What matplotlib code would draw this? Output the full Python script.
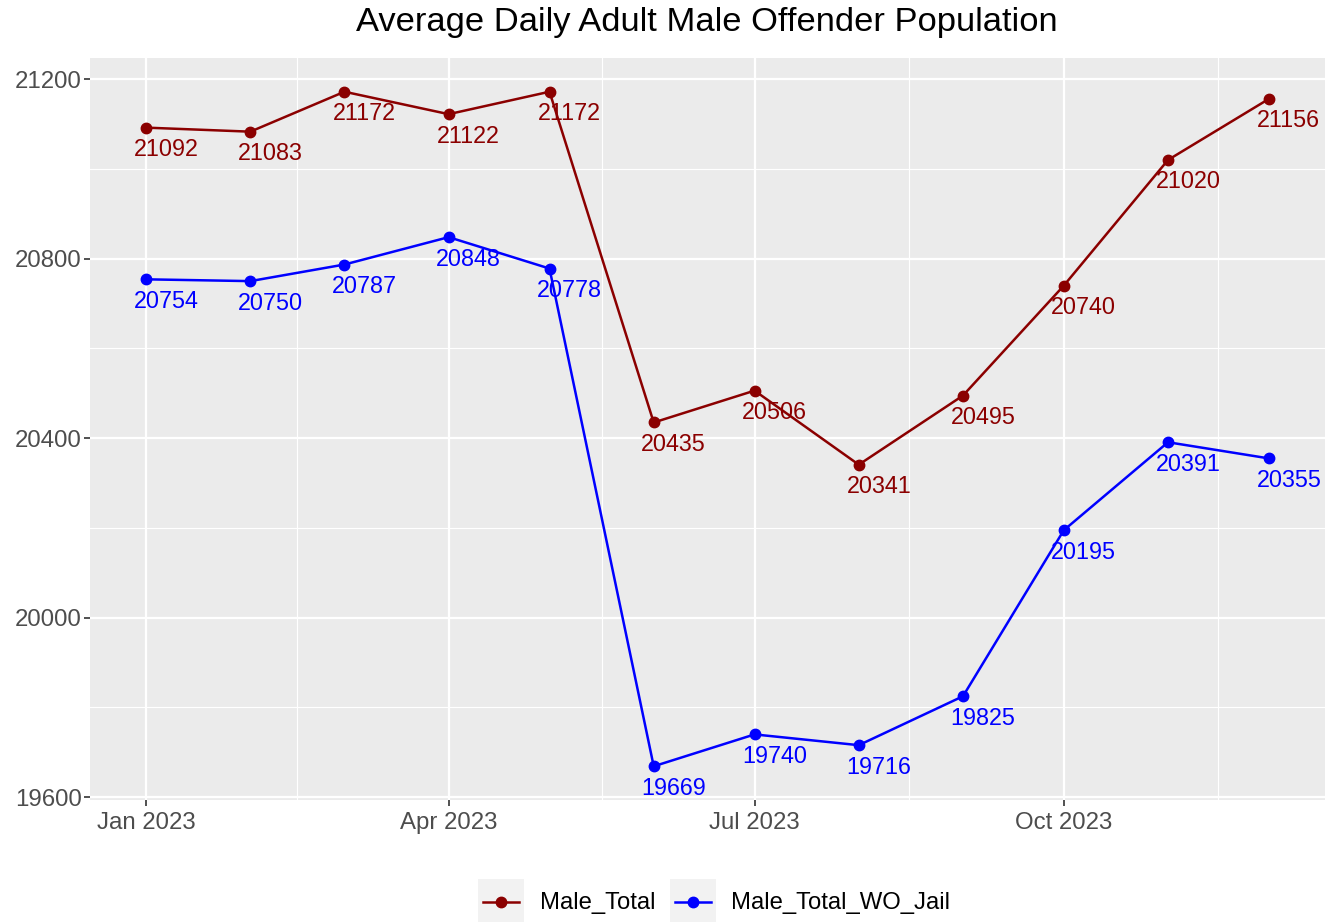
import numpy as np
import pandas as pd
import matplotlib
matplotlib.use("Agg")
import matplotlib.pyplot as plt
import matplotlib.dates as mdates
from matplotlib.lines import Line2D
from matplotlib.patches import Rectangle

plt.rcParams['font.family'] = ['Liberation Sans', 'DejaVu Sans']

months = pd.date_range("2023-01-01", periods=12, freq="MS")
male_total = [21092, 21083, 21172, 21122, 21172, 20435, 20506, 20341, 20495, 20740, 21020, 21156]
male_wo_jail = [20754, 20750, 20787, 20848, 20778, 19669, 19740, 19716, 19825, 20195, 20391, 20355]
series_names = ["Male_Total", "Male_Total_WO_Jail"]
series_colors = ["#8B0000", "#0000FF"]
y_ticks = [19600, 20000, 20400, 20800, 21200]

W, H = 1338, 922
fig = plt.figure(figsize=(W / 100, H / 100), dpi=100)
ax = fig.add_axes([90 / W, (H - 800) / H, (1325 - 90) / W, (800 - 58) / H])
ax.set_facecolor("#EBEBEB")

for vals, col in zip([male_total, male_wo_jail], series_colors):
    ax.plot(months, vals, color=col, lw=1.8, marker="o", ms=7.5, zorder=3)
    for d, v in zip(months, vals):
        ax.annotate(str(v), (d, v), xytext=(20, -22), textcoords="offset pixels",
                    ha="center", va="center", color=col, fontsize=16.8, zorder=4)

major_x = mdates.date2num(pd.to_datetime(["2023-01-01", "2023-04-01", "2023-07-01", "2023-10-01"]))
ax.set_xticks(major_x)
ax.xaxis.set_major_formatter(mdates.DateFormatter("%b %Y"))
minor_x = list((major_x[:-1] + major_x[1:]) / 2) + [(major_x[-1] + mdates.date2num(pd.Timestamp("2024-01-01"))) / 2]
ax.set_xticks(minor_x, minor=True)
ax.set_yticks(y_ticks)
ax.set_yticks([(a + b) / 2 for a, b in zip(y_ticks[:-1], y_ticks[1:])], minor=True)

# ggplot-like 5% expansion
xn = mdates.date2num(months)
xr = xn.max() - xn.min()
ax.set_xlim(xn.min() - 0.05 * xr, xn.max() + 0.05 * xr)
allv = male_total + male_wo_jail
yr = max(allv) - min(allv)
ax.set_ylim(min(allv) - 0.05 * yr, max(allv) + 0.05 * yr)

ax.grid(True, which="major", color="white", lw=1.6)
ax.grid(True, which="minor", color="white", lw=0.8)
ax.set_axisbelow(True)
for s in ax.spines.values():
    s.set_visible(False)
ax.tick_params(which="major", length=4, width=1.2, color="#333333", labelcolor="#4D4D4D",
               labelsize=17.3, pad=2)
ax.tick_params(axis="x", which="major", pad=4.5)
ax.tick_params(which="minor", length=0)

fig.text(707 / W, 1 - 23 / H, "Average Daily Adult Male Offender Population",
         ha="center", va="center", fontsize=24.8)

# legend at bottom
key_x = [478, 670]
text_x = [540, 731]
for kx, tx, name, col in zip(key_x, text_x, series_names, series_colors):
    fig.patches.append(Rectangle((kx / W, 0), 46 / W, 43 / H, transform=fig.transFigure,
                                 facecolor="#F2F2F2", edgecolor="none"))
    fig.lines.append(Line2D([(kx + 5) / W, (kx + 41) / W], [1 - 902 / H] * 2,
                            transform=fig.transFigure, color=col, lw=1.8))
    fig.lines.append(Line2D([(kx + 23) / W], [1 - 902 / H], transform=fig.transFigure,
                            color=col, marker="o", ms=7.5))
    fig.text(tx / W, 1 - 903 / H, name, ha="left", va="center", fontsize=17.2)

fig.savefig("out.png", dpi=100)
